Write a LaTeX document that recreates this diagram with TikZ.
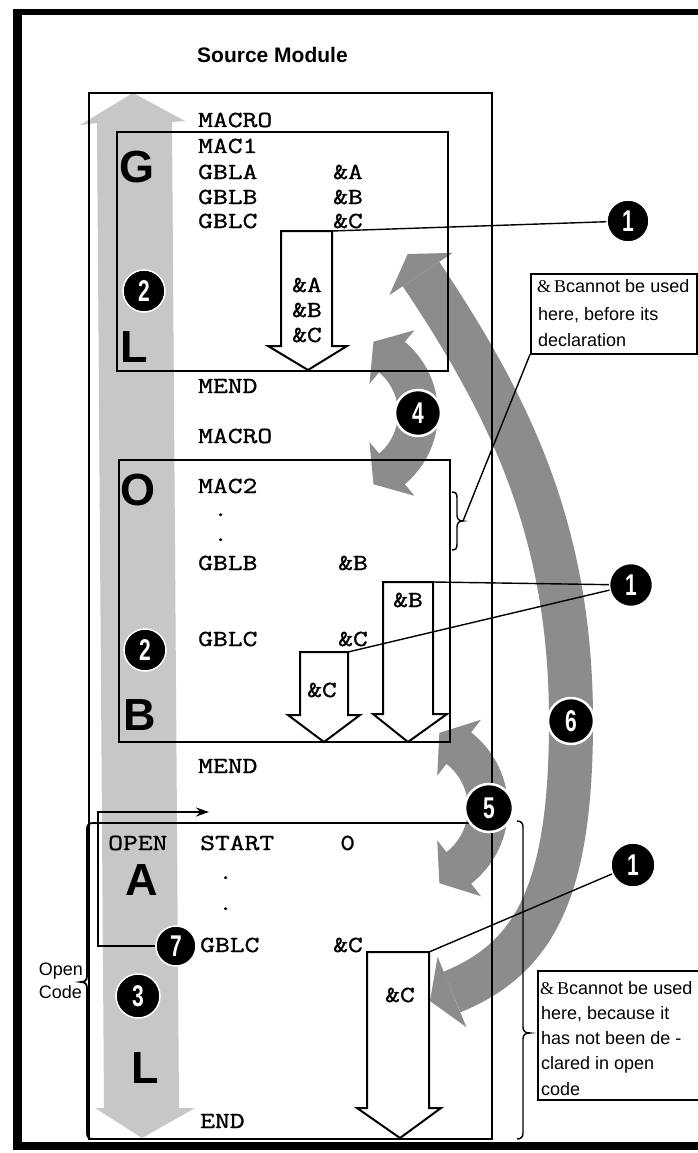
\documentclass[tikz,border=0pt]{standalone}
\usepackage{fontspec}
\usepackage{graphicx}
\setmainfont{Liberation Sans}
\newfontfamily\cmono[FakeStretch=1.25,FakeBold=1.2]{Latin Modern Mono}
\newfontfamily\cserif{Liberation Serif}
\usetikzlibrary{arrows.meta}
\definecolor{bandgray}{gray}{0.78}
\definecolor{arrgray}{gray}{0.55}
\newcommand\nb[1]{\scalebox{0.7}[1]{\fontsize{30}{30}\selectfont\bfseries #1}}
\tikzset{
 code/.style={font=\cmono\fontsize{23}{23}\selectfont, anchor=base west, inner sep=0pt},
 big/.style={font=\fontsize{45}{45}\selectfont\bfseries, anchor=base, inner sep=0pt},
 note/.style={font=\fontsize{18}{18}\selectfont, anchor=base west, inner sep=0pt},
 num/.style={circle, fill=black, draw=white, line width=1.5pt, inner sep=0pt, text=white},
 box/.style={draw=black, line width=2pt},
 conn/.style={draw=black, line width=1.4pt},
 blockarrow/.style={draw=black, fill=white, line width=2pt, line join=miter},
}
\begin{document}
\begin{tikzpicture}[x=1pt,y=-1pt]
\useasboundingbox (0,0) rectangle (698,1153);
\clip (0,0) rectangle (698,1153);
\fill[white] (0,0) rectangle (698,1153);
% outer frame
\draw[line width=6pt] (13,12) -- (702,12);
\draw[line width=9pt] (17,9) -- (17,1150);
\draw[line width=8pt] (13,1146) -- (702,1146);
% title
\node[font=\fontsize{21}{21}\selectfont\bfseries, anchor=base west, inner sep=0pt] (title) at (197,63) {Source Module};
% light global band
\fill[bandgray] (133,93) -- (185,121) -- (172,122) -- (179,1108) -- (195,1108) -- (142,1138) -- (95,1108) -- (104,1108) -- (97,123) -- (80,125) -- cycle;
% curved arrow 4
\begin{scope}[shift={(345,413)}]
\fill[arrgray] (-50:53) arc[start angle=-50,end angle=50,radius=53] -- (50:38) -- (68.2:76.8) -- (50:108) -- (50:93) arc[start angle=50,end angle=-50,radius=93] -- (-50:108) -- (-68.2:76.8) -- (-50:38) -- cycle;
\end{scope}
% curved arrow 5
\begin{scope}[shift={(412,808)}]
\fill[arrgray] (-52:56) arc[start angle=-52,end angle=52,radius=56] -- (52:41) -- (70:80) -- (52:112) -- (52:96) arc[start angle=52,end angle=-52,radius=96] -- (-52:112) -- (-70:80) -- (-52:41) -- cycle;
\end{scope}
% curved arrow 6
\draw[arrgray, line width=44pt] (421,274) .. controls (510,407) and (571,531) .. (571,721) .. controls (571,891) and (535,958) .. (452,992);
\fill[arrgray] (389.4,295.1) -- (407.7,254) -- (452.6,252.9) -- cycle;
\fill[arrgray] (437.6,956.8) -- (430,1001) -- (466.4,1027.2) -- cycle;
% boxes
\draw[box] (89,93) rectangle (492,1139);
\draw[box] (117,132) rectangle (448,371);
\draw[box] (119,460) rectangle (450,742);
% open code top line and left brace
\draw[line width=1.8pt] (492,823) -- (93,823) .. controls (89,823) and (87,825) .. (87,829) -- (87,976) .. controls (87,980) and (85,982) .. (81,982) .. controls (85,982) and (87,984) .. (87,988) -- (87,1133) .. controls (87,1137) and (89,1139) .. (93,1139);
% right brace (open code note)
\draw[conn] (517,821) .. controls (521,821) and (523,823) .. (523,827) -- (523,1027) .. controls (523,1031) and (525,1033) .. (530,1033) .. controls (525,1033) and (523,1035) .. (523,1039) -- (523,1133) .. controls (523,1137) and (521,1139) .. (517,1139);
% middle brace
\draw[conn] (452,492) .. controls (456,492) and (457,494) .. (457,498) -- (457,515) .. controls (457,519) and (459,521) .. (463,521) .. controls (459,521) and (457,523) .. (457,527) -- (457,544) .. controls (457,548) and (456,550) .. (452,550);
\coordinate (b2tip) at (463,521);
% big letters
\node[big] (LG) at (137,182) {G};
\node[big] (LL1) at (134,362) {L};
\node[big] (LO) at (138,505) {O};
\node[big] (LB) at (140,730) {B};
\node[big] (LA) at (142,895) {A};
\node[big] (LL2) at (145,1083) {L};
\node[code] (open) at (108,850) {OPEN};
% code text
\node[code] (t1) at (198,127) {MACRO};
\node[code] (t2) at (198,153) {MAC1};
\node[code] (t3) at (198,179) {GBLA};
\node[code] (t3b) at (333,179) {\&A};
\node[code] (t4) at (198,204) {GBLB};
\node[code] (t4b) at (333,204) {\&B};
\node[code] (t5) at (198,228) {GBLC};
\node[code] (t5b) at (333,228) {\&C};
\node[code] (t6) at (198,393) {MEND};
\node[code] (t7) at (198,443) {MACRO};
\node[code] (t8) at (198,493) {MAC2};
\node[code] (d1) at (213,516) {.};
\node[code] (d2) at (213,541) {.};
\node[code] (t9) at (198,570) {GBLB};
\node[code] (t9b) at (338,570) {\&B};
\node[code] (t10) at (198,646) {GBLC};
\node[code] (t10b) at (338,646) {\&C};
\node[code] (t11) at (198,773) {MEND};
\node[code] (t12) at (200,850) {START};
\node[code] (t12b) at (340,850) {0};
\node[code] (d3) at (218,879) {.};
\node[code] (d4) at (218,910) {.};
\node[code] (t13) at (200,952) {GBLC};
\node[code] (t13b) at (333,952) {\&C};
\node[code] (t14) at (200,1128) {END};
% block arrows
\draw[blockarrow] (281,231) -- (332,231) -- (332,346) -- (347,346) -- (308,370) -- (268,346) -- (281,346) -- cycle;
\coordinate (aA) at (332,231);
\node[code] (aA1) at (292,292) {\&A};
\node[code] (aA2) at (292,317) {\&B};
\node[code] (aA3) at (292,342) {\&C};
\draw[blockarrow] (383,582) -- (433,582) -- (433,714) -- (447,714) -- (408,742) -- (373,714) -- (383,714) -- cycle;
\coordinate (aB) at (433,582);
\node[code] (aB1) at (393,607) {\&B};
\draw[blockarrow] (300,652) -- (348,652) -- (348,715) -- (360,715) -- (324,742) -- (288,715) -- (300,715) -- cycle;
\coordinate (aC) at (348,652);
\node[code] (aC1) at (307,697) {\&C};
\draw[blockarrow] (367,952) -- (429,952) -- (429,1108) -- (441,1108) -- (400,1138) -- (357,1108) -- (367,1108) -- cycle;
\coordinate (aD) at (429,952);
\node[code] (aD1) at (385,1002) {\&C};
% notes
\node[draw, line width=1.5pt, minimum width=166pt, minimum height=80pt, anchor=north west, inner sep=0pt] (n1) at (530,273) {};
\node[note] (n1a) at (537,292) {{\cserif\&\,B}cannot be used};
\node[note] (n1b) at (538,320) {here, before its};
\node[note] (n1c) at (538,346) {declaration};
\node[draw, line width=1.5pt, minimum width=175pt, minimum height=129pt, anchor=north west, inner sep=0pt] (n2) at (537,970) {};
\node[note] (n2a) at (540,994) {{\cserif\&\,B}cannot be used};
\node[note] (n2b) at (541,1019) {here, because it};
\node[note] (n2c) at (541,1044) {has not been de -};
\node[note] (n2d) at (541,1069) {clared in open};
\node[note] (n2e) at (541,1095) {code};
% open code label
\node[font=\fontsize{18}{18}\selectfont, anchor=base east, inner sep=0pt] (oc1) at (83,975) {Open};
\node[font=\fontsize{18}{18}\selectfont, anchor=base east, inner sep=0pt] (oc2) at (82,998) {Code};
% circles
\node[num, minimum size=42pt] (c1a) at (628,221) {\nb{1}};
\node[num, minimum size=43pt] (c1b) at (631,585) {\nb{1}};
\node[num, minimum size=44pt] (c1c) at (633,865) {\nb{1}};
\node[num, minimum size=42pt] (c2a) at (144,291) {\nb{2}};
\node[num, minimum size=42pt] (c2b) at (145,650) {\nb{2}};
\node[num, minimum size=44pt] (c3) at (138,996) {\nb{3}};
\node[num, minimum size=46pt, line width=2.5pt] (c4) at (418,413) {\nb{4}};
\node[num, minimum size=48pt, line width=2.5pt] (c5) at (489,808) {\nb{5}};
\node[num, minimum size=46pt, line width=2.5pt] (c6) at (571,721) {\nb{6}};
\node[num, minimum size=40pt] (c7) at (176,946) {\nb{7}};
% connectors
\draw[conn] (aA) -- (c1a);
\draw[conn] (aB) -- (c1b);
\draw[conn] (aC) -- (c1b);
\draw[conn] (aD) -- (c1c);
\draw[conn] (b2tip) -- (n1.south west);
\coordinate (e7) at (209,812);
\draw[conn, -{Stealth[length=13pt,width=9pt]}] (c7.west) -| (98,812) -- (e7);
\end{tikzpicture}
\end{document}
